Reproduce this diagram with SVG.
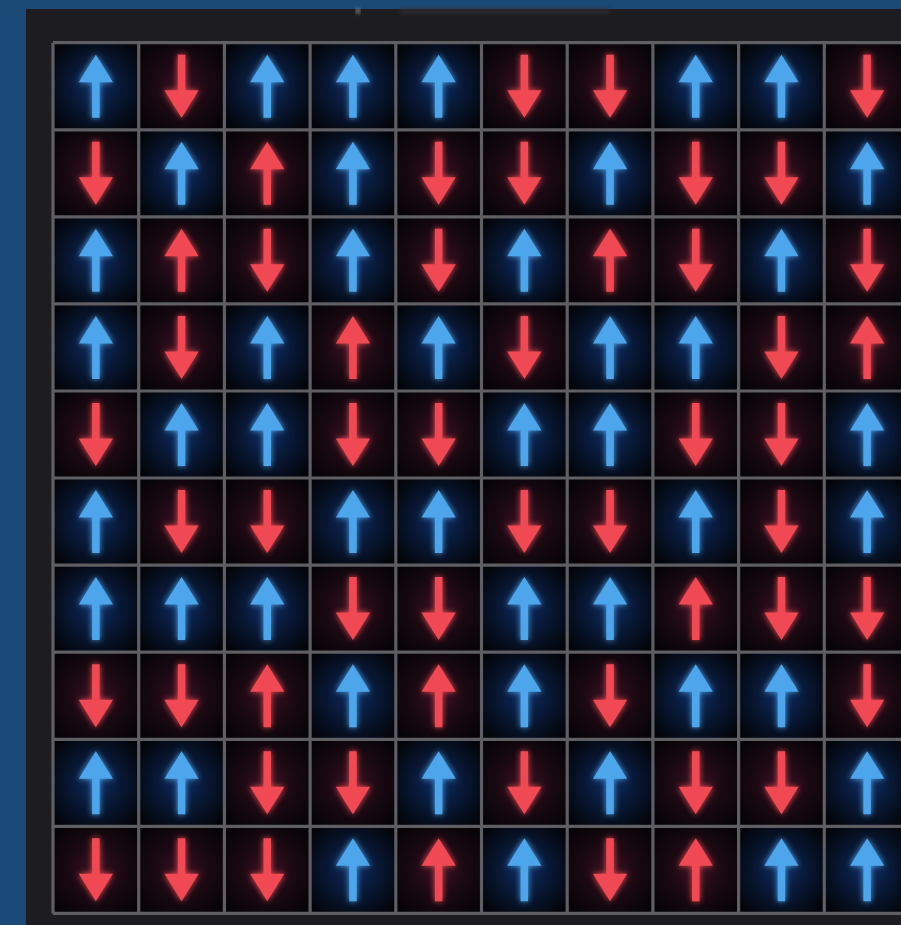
<svg xmlns="http://www.w3.org/2000/svg" xmlns:xlink="http://www.w3.org/1999/xlink" width="901" height="925" viewBox="0 0 901 925">
<style>
.grid{fill:none;stroke:#5e5e63;stroke-width:3.2}
.ab{fill:#4da5ec}
.ar{fill:#f04a52}
</style>
<defs>
<radialGradient id="gb" cx="50%" cy="50%" r="62%">
<stop offset="0" stop-color="#0e2c62"/>
<stop offset="0.5" stop-color="#081733"/>
<stop offset="1" stop-color="#03050a"/>
</radialGradient>
<radialGradient id="gr" cx="50%" cy="50%" r="62%">
<stop offset="0" stop-color="#3a1122"/>
<stop offset="0.5" stop-color="#1b0912"/>
<stop offset="1" stop-color="#060408"/>
</radialGradient>
<filter id="glow" x="-50%" y="-50%" width="200%" height="200%">
<feGaussianBlur in="SourceGraphic" stdDeviation="3" result="b"/>
<feMerge><feMergeNode in="b"/><feMergeNode in="SourceGraphic"/></feMerge>
</filter>
<filter id="soft" x="-20%" y="-200%" width="140%" height="500%"><feGaussianBlur stdDeviation="2"/></filter>
<g id="bu">
<rect width="85.7" height="87.1" fill="url(#gb)"/>
<path class="ab" filter="url(#glow)" d="M42.85,12 L60,39.5 L46.6,39.5 L46.6,75 L39.1,75 L39.1,39.5 L25.7,39.5 Z"/>
</g>
<g id="rd">
<rect width="85.7" height="87.1" fill="url(#gr)"/>
<path class="ar" filter="url(#glow)" d="M42.85,75 L60,47.5 L46.6,47.5 L46.6,12 L39.1,12 L39.1,47.5 L25.7,47.5 Z"/>
</g>
<g id="ru">
<rect width="85.7" height="87.1" fill="url(#gr)"/>
<path class="ar" filter="url(#glow)" d="M42.85,12 L60,39.5 L46.6,39.5 L46.6,75 L39.1,75 L39.1,39.5 L25.7,39.5 Z"/>
</g>
</defs>
<rect width="901" height="925" fill="#1b4a76"/>
<rect x="26" y="9" width="875" height="916" fill="#1c1c21"/>
<rect x="400" y="9" width="210" height="4" fill="#2e2e34" filter="url(#soft)"/>
<circle cx="358" cy="11" r="2" fill="#cfcfd4" filter="url(#soft)"/>
<g id="cells">
<g id="r0c0" transform="translate(53,42.7)"><use href="#bu"/></g>
<g id="r0c1" transform="translate(138.7,42.7)"><use href="#rd"/></g>
<g id="r0c2" transform="translate(224.4,42.7)"><use href="#bu"/></g>
<g id="r0c3" transform="translate(310.1,42.7)"><use href="#bu"/></g>
<g id="r0c4" transform="translate(395.8,42.7)"><use href="#bu"/></g>
<g id="r0c5" transform="translate(481.5,42.7)"><use href="#rd"/></g>
<g id="r0c6" transform="translate(567.2,42.7)"><use href="#rd"/></g>
<g id="r0c7" transform="translate(652.9,42.7)"><use href="#bu"/></g>
<g id="r0c8" transform="translate(738.6,42.7)"><use href="#bu"/></g>
<g id="r0c9" transform="translate(824.3,42.7)"><use href="#rd"/></g>

<g id="r1c0" transform="translate(53,129.8)"><use href="#rd"/></g>
<g id="r1c1" transform="translate(138.7,129.8)"><use href="#bu"/></g>
<g id="r1c2" transform="translate(224.4,129.8)"><use href="#ru"/></g>
<g id="r1c3" transform="translate(310.1,129.8)"><use href="#bu"/></g>
<g id="r1c4" transform="translate(395.8,129.8)"><use href="#rd"/></g>
<g id="r1c5" transform="translate(481.5,129.8)"><use href="#rd"/></g>
<g id="r1c6" transform="translate(567.2,129.8)"><use href="#bu"/></g>
<g id="r1c7" transform="translate(652.9,129.8)"><use href="#rd"/></g>
<g id="r1c8" transform="translate(738.6,129.8)"><use href="#rd"/></g>
<g id="r1c9" transform="translate(824.3,129.8)"><use href="#bu"/></g>

<g id="r2c0" transform="translate(53,216.8)"><use href="#bu"/></g>
<g id="r2c1" transform="translate(138.7,216.8)"><use href="#ru"/></g>
<g id="r2c2" transform="translate(224.4,216.8)"><use href="#rd"/></g>
<g id="r2c3" transform="translate(310.1,216.8)"><use href="#bu"/></g>
<g id="r2c4" transform="translate(395.8,216.8)"><use href="#rd"/></g>
<g id="r2c5" transform="translate(481.5,216.8)"><use href="#bu"/></g>
<g id="r2c6" transform="translate(567.2,216.8)"><use href="#ru"/></g>
<g id="r2c7" transform="translate(652.9,216.8)"><use href="#rd"/></g>
<g id="r2c8" transform="translate(738.6,216.8)"><use href="#bu"/></g>
<g id="r2c9" transform="translate(824.3,216.8)"><use href="#rd"/></g>

<g id="r3c0" transform="translate(53,303.9)"><use href="#bu"/></g>
<g id="r3c1" transform="translate(138.7,303.9)"><use href="#rd"/></g>
<g id="r3c2" transform="translate(224.4,303.9)"><use href="#bu"/></g>
<g id="r3c3" transform="translate(310.1,303.9)"><use href="#ru"/></g>
<g id="r3c4" transform="translate(395.8,303.9)"><use href="#bu"/></g>
<g id="r3c5" transform="translate(481.5,303.9)"><use href="#rd"/></g>
<g id="r3c6" transform="translate(567.2,303.9)"><use href="#bu"/></g>
<g id="r3c7" transform="translate(652.9,303.9)"><use href="#bu"/></g>
<g id="r3c8" transform="translate(738.6,303.9)"><use href="#rd"/></g>
<g id="r3c9" transform="translate(824.3,303.9)"><use href="#ru"/></g>

<g id="r4c0" transform="translate(53,391)"><use href="#rd"/></g>
<g id="r4c1" transform="translate(138.7,391)"><use href="#bu"/></g>
<g id="r4c2" transform="translate(224.4,391)"><use href="#bu"/></g>
<g id="r4c3" transform="translate(310.1,391)"><use href="#rd"/></g>
<g id="r4c4" transform="translate(395.8,391)"><use href="#rd"/></g>
<g id="r4c5" transform="translate(481.5,391)"><use href="#bu"/></g>
<g id="r4c6" transform="translate(567.2,391)"><use href="#bu"/></g>
<g id="r4c7" transform="translate(652.9,391)"><use href="#rd"/></g>
<g id="r4c8" transform="translate(738.6,391)"><use href="#rd"/></g>
<g id="r4c9" transform="translate(824.3,391)"><use href="#bu"/></g>

<g id="r5c0" transform="translate(53,478)"><use href="#bu"/></g>
<g id="r5c1" transform="translate(138.7,478)"><use href="#rd"/></g>
<g id="r5c2" transform="translate(224.4,478)"><use href="#rd"/></g>
<g id="r5c3" transform="translate(310.1,478)"><use href="#bu"/></g>
<g id="r5c4" transform="translate(395.8,478)"><use href="#bu"/></g>
<g id="r5c5" transform="translate(481.5,478)"><use href="#rd"/></g>
<g id="r5c6" transform="translate(567.2,478)"><use href="#rd"/></g>
<g id="r5c7" transform="translate(652.9,478)"><use href="#bu"/></g>
<g id="r5c8" transform="translate(738.6,478)"><use href="#rd"/></g>
<g id="r5c9" transform="translate(824.3,478)"><use href="#bu"/></g>

<g id="r6c0" transform="translate(53,565.1)"><use href="#bu"/></g>
<g id="r6c1" transform="translate(138.7,565.1)"><use href="#bu"/></g>
<g id="r6c2" transform="translate(224.4,565.1)"><use href="#bu"/></g>
<g id="r6c3" transform="translate(310.1,565.1)"><use href="#rd"/></g>
<g id="r6c4" transform="translate(395.8,565.1)"><use href="#rd"/></g>
<g id="r6c5" transform="translate(481.5,565.1)"><use href="#bu"/></g>
<g id="r6c6" transform="translate(567.2,565.1)"><use href="#bu"/></g>
<g id="r6c7" transform="translate(652.9,565.1)"><use href="#ru"/></g>
<g id="r6c8" transform="translate(738.6,565.1)"><use href="#rd"/></g>
<g id="r6c9" transform="translate(824.3,565.1)"><use href="#rd"/></g>

<g id="r7c0" transform="translate(53,652.2)"><use href="#rd"/></g>
<g id="r7c1" transform="translate(138.7,652.2)"><use href="#rd"/></g>
<g id="r7c2" transform="translate(224.4,652.2)"><use href="#ru"/></g>
<g id="r7c3" transform="translate(310.1,652.2)"><use href="#bu"/></g>
<g id="r7c4" transform="translate(395.8,652.2)"><use href="#ru"/></g>
<g id="r7c5" transform="translate(481.5,652.2)"><use href="#bu"/></g>
<g id="r7c6" transform="translate(567.2,652.2)"><use href="#rd"/></g>
<g id="r7c7" transform="translate(652.9,652.2)"><use href="#bu"/></g>
<g id="r7c8" transform="translate(738.6,652.2)"><use href="#bu"/></g>
<g id="r7c9" transform="translate(824.3,652.2)"><use href="#rd"/></g>

<g id="r8c0" transform="translate(53,739.3)"><use href="#bu"/></g>
<g id="r8c1" transform="translate(138.7,739.3)"><use href="#bu"/></g>
<g id="r8c2" transform="translate(224.4,739.3)"><use href="#rd"/></g>
<g id="r8c3" transform="translate(310.1,739.3)"><use href="#rd"/></g>
<g id="r8c4" transform="translate(395.8,739.3)"><use href="#bu"/></g>
<g id="r8c5" transform="translate(481.5,739.3)"><use href="#rd"/></g>
<g id="r8c6" transform="translate(567.2,739.3)"><use href="#bu"/></g>
<g id="r8c7" transform="translate(652.9,739.3)"><use href="#rd"/></g>
<g id="r8c8" transform="translate(738.6,739.3)"><use href="#rd"/></g>
<g id="r8c9" transform="translate(824.3,739.3)"><use href="#bu"/></g>

<g id="r9c0" transform="translate(53,826.3)"><use href="#rd"/></g>
<g id="r9c1" transform="translate(138.7,826.3)"><use href="#rd"/></g>
<g id="r9c2" transform="translate(224.4,826.3)"><use href="#rd"/></g>
<g id="r9c3" transform="translate(310.1,826.3)"><use href="#bu"/></g>
<g id="r9c4" transform="translate(395.8,826.3)"><use href="#ru"/></g>
<g id="r9c5" transform="translate(481.5,826.3)"><use href="#bu"/></g>
<g id="r9c6" transform="translate(567.2,826.3)"><use href="#rd"/></g>
<g id="r9c7" transform="translate(652.9,826.3)"><use href="#ru"/></g>
<g id="r9c8" transform="translate(738.6,826.3)"><use href="#bu"/></g>
<g id="r9c9" transform="translate(824.3,826.3)"><use href="#bu"/></g>
</g>
<g id="gridlines">
<path class="grid" d="M53,42.7V913.4 M138.7,42.7V913.4 M224.4,42.7V913.4 M310.1,42.7V913.4 M395.8,42.7V913.4 M481.5,42.7V913.4 M567.2,42.7V913.4 M652.9,42.7V913.4 M738.6,42.7V913.4 M824.3,42.7V913.4 M910,42.7V913.4"/>
<path class="grid" d="M53,42.7H910 M53,129.8H910 M53,216.8H910 M53,303.9H910 M53,391H910 M53,478H910 M53,565.1H910 M53,652.2H910 M53,739.3H910 M53,826.3H910 M53,913.4H910"/>
</g>
</svg>
